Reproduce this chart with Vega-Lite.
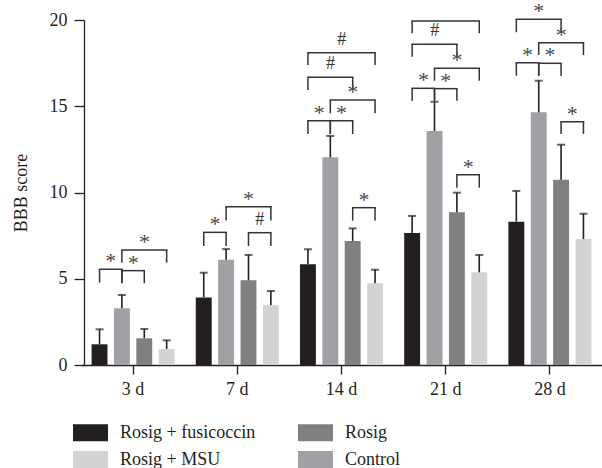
{
  "$schema": "https://vega.github.io/schema/vega-lite/v6.json",
  "autosize": {"type": "none"},
  "padding": {"left": 81, "top": 20, "right": 0, "bottom": 103},
  "width": 521,
  "height": 345,
  "config": {
    "font": "Liberation Serif",
    "view": {"stroke": null}
  },
  "datasets": {
    "bars": [
      {"day": "3 d", "series": "Rosig + fusicoccin", "mean": 1.2, "upper": 2.07},
      {"day": "3 d", "series": "Control", "mean": 3.29, "upper": 4.06},
      {"day": "3 d", "series": "Rosig", "mean": 1.55, "upper": 2.09},
      {"day": "3 d", "series": "Rosig + MSU", "mean": 0.93, "upper": 1.43},
      {"day": "7 d", "series": "Rosig + fusicoccin", "mean": 3.92, "upper": 5.35},
      {"day": "7 d", "series": "Control", "mean": 6.1, "upper": 6.72},
      {"day": "7 d", "series": "Rosig", "mean": 4.91, "upper": 6.38},
      {"day": "7 d", "series": "Rosig + MSU", "mean": 3.46, "upper": 4.29},
      {"day": "14 d", "series": "Rosig + fusicoccin", "mean": 5.84, "upper": 6.71},
      {"day": "14 d", "series": "Control", "mean": 12.04, "upper": 13.28},
      {"day": "14 d", "series": "Rosig", "mean": 7.19, "upper": 7.92},
      {"day": "14 d", "series": "Rosig + MSU", "mean": 4.74, "upper": 5.52},
      {"day": "21 d", "series": "Rosig + fusicoccin", "mean": 7.65, "upper": 8.64},
      {"day": "21 d", "series": "Control", "mean": 13.57, "upper": 15.26},
      {"day": "21 d", "series": "Rosig", "mean": 8.85, "upper": 9.99},
      {"day": "21 d", "series": "Rosig + MSU", "mean": 5.37, "upper": 6.38},
      {"day": "28 d", "series": "Rosig + fusicoccin", "mean": 8.31, "upper": 10.09},
      {"day": "28 d", "series": "Control", "mean": 14.65, "upper": 16.48},
      {"day": "28 d", "series": "Rosig", "mean": 10.74, "upper": 12.77},
      {"day": "28 d", "series": "Rosig + MSU", "mean": 7.3, "upper": 8.77}
    ],
    "brackets": [
      {"day": "3 d", "from": "Rosig + fusicoccin", "to": "Control", "top": 5.55, "bottom": 4.77, "label": "*"},
      {"day": "3 d", "from": "Control", "to": "Rosig", "top": 5.47, "bottom": 4.74, "label": "*"},
      {"day": "3 d", "from": "Control", "to": "Rosig + MSU", "top": 6.67, "bottom": 5.93, "label": "*"},
      {"day": "7 d", "from": "Rosig + fusicoccin", "to": "Control", "top": 7.69, "bottom": 6.9, "label": "*"},
      {"day": "7 d", "from": "Rosig", "to": "Rosig + MSU", "top": 7.67, "bottom": 6.9, "label": "#"},
      {"day": "7 d", "from": "Control", "to": "Rosig + MSU", "top": 9.18, "bottom": 8.37, "label": "*"},
      {"day": "14 d", "from": "Rosig + fusicoccin", "to": "Control", "top": 14.16, "bottom": 13.39, "label": "*"},
      {"day": "14 d", "from": "Control", "to": "Rosig", "top": 14.16, "bottom": 13.39, "label": "*"},
      {"day": "14 d", "from": "Control", "to": "Rosig + MSU", "top": 15.36, "bottom": 14.59, "label": "*"},
      {"day": "14 d", "from": "Rosig + fusicoccin", "to": "Rosig", "top": 16.68, "bottom": 15.94, "label": "#"},
      {"day": "14 d", "from": "Rosig + fusicoccin", "to": "Rosig + MSU", "top": 18.1, "bottom": 17.39, "label": "#"},
      {"day": "14 d", "from": "Rosig", "to": "Rosig + MSU", "top": 9.12, "bottom": 8.37, "label": "*"},
      {"day": "21 d", "from": "Rosig + fusicoccin", "to": "Control", "top": 16.04, "bottom": 15.32, "label": "*"},
      {"day": "21 d", "from": "Control", "to": "Rosig", "top": 16.02, "bottom": 15.32, "label": "*"},
      {"day": "21 d", "from": "Control", "to": "Rosig + MSU", "top": 17.2, "bottom": 16.48, "label": "*"},
      {"day": "21 d", "from": "Rosig + fusicoccin", "to": "Rosig", "top": 18.59, "bottom": 17.87, "label": "#"},
      {"day": "21 d", "from": "Rosig + fusicoccin", "to": "Rosig + MSU", "top": 19.94, "bottom": 19.23, "label": ""},
      {"day": "21 d", "from": "Rosig", "to": "Rosig + MSU", "top": 11.03, "bottom": 10.28, "label": "*"},
      {"day": "28 d", "from": "Rosig + fusicoccin", "to": "Control", "top": 17.52, "bottom": 16.77, "label": "*"},
      {"day": "28 d", "from": "Control", "to": "Rosig", "top": 17.49, "bottom": 16.75, "label": "*"},
      {"day": "28 d", "from": "Control", "to": "Rosig + MSU", "top": 18.68, "bottom": 17.97, "label": "*"},
      {"day": "28 d", "from": "Rosig + fusicoccin", "to": "Rosig", "top": 20.04, "bottom": 19.29, "label": "*"},
      {"day": "28 d", "from": "Rosig", "to": "Rosig + MSU", "top": 14.1, "bottom": 13.39, "label": "*"}
    ]
  },
  "encoding": {
    "x": {
      "field": "day",
      "type": "nominal",
      "scale": {"domain": ["3 d", "7 d", "14 d", "21 d", "28 d"], "paddingInner": 0, "paddingOuter": 0},
      "axis": {
        "title": null,
        "labelAngle": 0,
        "labelFontSize": 18,
        "labelColor": "#231f20",
        "labelPadding": 6,
        "tickSize": 9,
        "tickWidth": 1.3,
        "tickColor": "#231f20",
        "domainColor": "#231f20",
        "domainWidth": 1.3,
        "bandPosition": 0.5,
        "grid": false
      }
    }
  },
  "layer": [
    {
      "data": {"name": "bars"},
      "mark": {"type": "bar"},
      "encoding": {
        "xOffset": {
          "field": "series",
          "type": "nominal",
          "scale": {"domain": ["Rosig + fusicoccin", "Control", "Rosig", "Rosig + MSU"], "paddingInner": 0.289, "paddingOuter": 0.473}
        },
        "y": {
          "field": "mean",
          "type": "quantitative",
          "scale": {"domain": [0, 20], "nice": false},
          "axis": {
            "title": "BBB score",
            "values": [0, 5, 10, 15, 20],
            "grid": false,
            "offset": -3,
            "tickSize": 10,
            "tickWidth": 1.3,
            "tickColor": "#231f20",
            "domainColor": "#231f20",
            "domainWidth": 1.3,
            "labelFontSize": 18,
            "labelColor": "#231f20",
            "labelPadding": 7,
            "titleFontSize": 18,
            "titleFontWeight": "normal",
            "titleColor": "#231f20",
            "titlePadding": 19
          }
        },
        "color": {
          "field": "series",
          "type": "nominal",
          "scale": {
            "domain": ["Rosig + fusicoccin", "Rosig + MSU", "Rosig", "Control"],
            "range": ["#231f20", "#d3d3d3", "#808080", "#a0a1a4"]
          },
          "legend": {
            "title": null,
            "orient": "none",
            "legendX": -8,
            "legendY": 395,
            "columns": 2,
            "symbolType": "M-1,-0.48H1V0.48H-1Z",
            "symbolSize": 1225,
            "symbolStrokeWidth": 0,
            "symbolOpacity": 1,
            "labelFontSize": 18,
            "labelColor": "#231f20",
            "labelOffset": 12,
            "labelLimit": 300,
            "columnPadding": 42,
            "rowPadding": -8
          }
        }
      }
    },
    {
      "data": {"name": "bars"},
      "mark": {"type": "rule", "color": "#231f20", "strokeWidth": 1.6},
      "encoding": {
        "xOffset": {"field": "series", "type": "nominal", "scale": {"domain": ["Rosig + fusicoccin", "Control", "Rosig", "Rosig + MSU"], "paddingInner": 0.289, "paddingOuter": 0.473}},
        "y": {"field": "mean", "type": "quantitative"},
        "y2": {"field": "upper"}
      }
    },
    {
      "data": {"name": "bars"},
      "mark": {"type": "tick", "color": "#231f20", "size": 8, "thickness": 2, "orient": "horizontal"},
      "encoding": {
        "xOffset": {"field": "series", "type": "nominal", "scale": {"domain": ["Rosig + fusicoccin", "Control", "Rosig", "Rosig + MSU"], "paddingInner": 0.289, "paddingOuter": 0.473}},
        "y": {"field": "upper", "type": "quantitative"}
      }
    },
    {
      "data": {"name": "brackets"},
      "transform": [{"fold": ["from", "to"], "as": ["end", "series"]}],
      "mark": {"type": "rule", "color": "#333333", "strokeWidth": 1.5},
      "encoding": {
        "xOffset": {"field": "series", "type": "nominal", "scale": {"domain": ["Rosig + fusicoccin", "Control", "Rosig", "Rosig + MSU"], "paddingInner": 0.289, "paddingOuter": 0.473}},
        "y": {"field": "bottom", "type": "quantitative"},
        "y2": {"field": "top"}
      }
    },
    {
      "data": {"name": "brackets"},
      "transform": [{"fold": ["from", "to"], "as": ["end", "series"]}],
      "mark": {"type": "line", "color": "#333333", "strokeWidth": 1.5, "strokeCap": "square"},
      "encoding": {
        "xOffset": {"field": "series", "type": "nominal", "scale": {"domain": ["Rosig + fusicoccin", "Control", "Rosig", "Rosig + MSU"], "paddingInner": 0.289, "paddingOuter": 0.473}},
        "y": {"field": "top", "type": "quantitative"},
        "detail": [{"field": "day"}, {"field": "from"}, {"field": "to"}]
      }
    },
    {
      "data": {"name": "brackets"},
      "transform": [{"filter": "datum.label == '*' && indexof(['Rosig + fusicoccin','Control','Rosig','Rosig + MSU'], datum.to) - indexof(['Rosig + fusicoccin','Control','Rosig','Rosig + MSU'], datum.from) == 1"}],
      "mark": {"type": "text", "fontSize": 22, "color": "#4a4a4a", "dx": 11.25, "dy": -1, "baseline": "alphabetic"},
      "encoding": {
        "xOffset": {"field": "from", "type": "nominal", "scale": {"domain": ["Rosig + fusicoccin", "Control", "Rosig", "Rosig + MSU"], "paddingInner": 0.289, "paddingOuter": 0.473}},
        "y": {"field": "top", "type": "quantitative"},
        "text": {"field": "label"}
      }
    },
    {
      "data": {"name": "brackets"},
      "transform": [{"filter": "datum.label == '*' && indexof(['Rosig + fusicoccin','Control','Rosig','Rosig + MSU'], datum.to) - indexof(['Rosig + fusicoccin','Control','Rosig','Rosig + MSU'], datum.from) == 2"}],
      "mark": {"type": "text", "fontSize": 22, "color": "#4a4a4a", "dx": 22.5, "dy": -1, "baseline": "alphabetic"},
      "encoding": {
        "xOffset": {"field": "from", "type": "nominal", "scale": {"domain": ["Rosig + fusicoccin", "Control", "Rosig", "Rosig + MSU"], "paddingInner": 0.289, "paddingOuter": 0.473}},
        "y": {"field": "top", "type": "quantitative"},
        "text": {"field": "label"}
      }
    },
    {
      "data": {"name": "brackets"},
      "transform": [{"filter": "datum.label == '#' && indexof(['Rosig + fusicoccin','Control','Rosig','Rosig + MSU'], datum.to) - indexof(['Rosig + fusicoccin','Control','Rosig','Rosig + MSU'], datum.from) == 1"}],
      "mark": {"type": "text", "fontSize": 18, "color": "#333333", "dx": 11.25, "dy": -8, "baseline": "alphabetic"},
      "encoding": {
        "xOffset": {"field": "from", "type": "nominal", "scale": {"domain": ["Rosig + fusicoccin", "Control", "Rosig", "Rosig + MSU"], "paddingInner": 0.289, "paddingOuter": 0.473}},
        "y": {"field": "top", "type": "quantitative"},
        "text": {"field": "label"}
      }
    },
    {
      "data": {"name": "brackets"},
      "transform": [{"filter": "datum.label == '#' && indexof(['Rosig + fusicoccin','Control','Rosig','Rosig + MSU'], datum.to) - indexof(['Rosig + fusicoccin','Control','Rosig','Rosig + MSU'], datum.from) == 2"}],
      "mark": {"type": "text", "fontSize": 18, "color": "#333333", "dx": 22.5, "dy": -8, "baseline": "alphabetic"},
      "encoding": {
        "xOffset": {"field": "from", "type": "nominal", "scale": {"domain": ["Rosig + fusicoccin", "Control", "Rosig", "Rosig + MSU"], "paddingInner": 0.289, "paddingOuter": 0.473}},
        "y": {"field": "top", "type": "quantitative"},
        "text": {"field": "label"}
      }
    },
    {
      "data": {"name": "brackets"},
      "transform": [{"filter": "datum.label == '#' && indexof(['Rosig + fusicoccin','Control','Rosig','Rosig + MSU'], datum.to) - indexof(['Rosig + fusicoccin','Control','Rosig','Rosig + MSU'], datum.from) == 3"}],
      "mark": {"type": "text", "fontSize": 18, "color": "#333333", "dx": 33.75, "dy": -8, "baseline": "alphabetic"},
      "encoding": {
        "xOffset": {"field": "from", "type": "nominal", "scale": {"domain": ["Rosig + fusicoccin", "Control", "Rosig", "Rosig + MSU"], "paddingInner": 0.289, "paddingOuter": 0.473}},
        "y": {"field": "top", "type": "quantitative"},
        "text": {"field": "label"}
      }
    }
  ]
}
